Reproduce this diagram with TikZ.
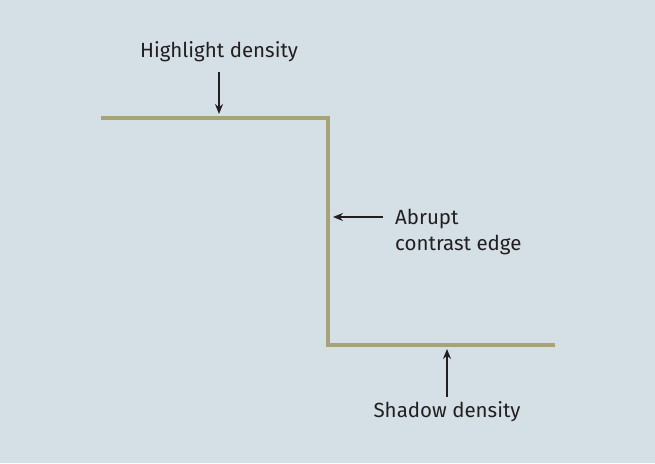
\documentclass[tikz,border=0pt]{standalone}
\usepackage{fontspec}
\setmainfont{Fira Sans}
\usetikzlibrary{arrows.meta,positioning}
\definecolor{bggray}{HTML}{D5E0E6}
\definecolor{curveolive}{HTML}{A8A27A}
\definecolor{textdark}{HTML}{231F20}

\begin{document}
\begin{tikzpicture}[
  x=1pt,
  y=1pt,
  curveline/.style={curveolive, line width=3.2pt, line join=miter},
  labeltext/.style={
    text=textdark,
    font=\fontsize{20.5}{26}\selectfont,
    inner sep=0pt
  },
  pointer/.style={
    textdark,
    line width=1.2pt,
    -{Stealth[length=10pt,width=8pt]}
  }
]

% Canvas, same size as the reference
\fill[bggray] (0,0) rectangle (655,463);
\path[use as bounding box] (0,0) rectangle (655,463);

% Density step
\coordinate (hileft) at (101,345);
\coordinate (hicorner) at (328,345);
\coordinate (locorner) at (328,118);
\coordinate (loright) at (555,118);
\draw[curveline] (hileft) -- (hicorner) -- (locorner) -- (loright);

% Targets on the step
\coordinate (hitip) at (219,349);
\coordinate (edgetip) at (333,246);
\coordinate (lotip) at (447,114);

% Labels
\node[labeltext] (highlight) at (219,411) {Highlight density};
\node[labeltext, anchor=west, align=left] (edge) at (395,231)
  {Abrupt\\ contrast edge};
\node[labeltext] (shadow) at (447,51) {Shadow density};

% Pointers
\draw[pointer] (219,391) -- (hitip);
\draw[pointer] (383,246) -- (edgetip);
\draw[pointer] (447,66) -- (lotip);

\end{tikzpicture}
\end{document}
